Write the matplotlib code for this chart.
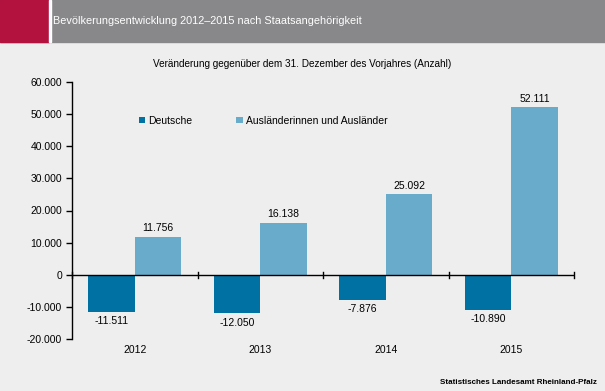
import numpy as np
import matplotlib.pyplot as plt
from matplotlib.patches import Rectangle

plt.rcParams['font.family'] = ['Liberation Sans', 'DejaVu Sans']

years = ['2012', '2013', '2014', '2015']
deutsche = [-11511, -12050, -7876, -10890]
auslaender = [11756, 16138, 25092, 52111]
yticks = [-20000, -10000, 0, 10000, 20000, 30000, 40000, 50000, 60000]


def de_fmt(v):
    return f'{v:,.0f}'.replace(',', '.')


fig = plt.figure(figsize=(6.05, 3.91), dpi=100)
fig.patch.set_facecolor('#eeeeee')

# header band
fig.add_artist(Rectangle((0, 1 - 42 / 391), 1, 42 / 391, transform=fig.transFigure,
                         color='#88888b', zorder=0))
fig.add_artist(Rectangle((0, 1 - 42 / 391), 49 / 605, 42 / 391, transform=fig.transFigure,
                         color='#b3123f', zorder=1))
fig.add_artist(Rectangle((49 / 605, 1 - 42 / 391), 1.5 / 605, 42 / 391, transform=fig.transFigure,
                         color='white', zorder=1))
fig.text(53 / 605, 1 - 21 / 391, 'Bevölkerungsentwicklung 2012\u20132015 nach Staatsangehörigkeit',
         color='white', fontsize=7.8, va='center', ha='left')

ax = fig.add_axes([72 / 605, 1 - 339 / 391, (574 - 72) / 605, (339 - 82) / 391])
ax.set_facecolor('none')

x = np.arange(len(years))
w = 0.37
b1 = ax.bar(x - w / 2, deutsche, w, color='#0071a3', label='Deutsche')
b2 = ax.bar(x + w / 2, auslaender, w, color='#68abcb', label='Ausländerinnen und Ausländer')

for xi, v in zip(x, deutsche):
    ax.text(xi - w / 2, v - 1300, de_fmt(v), ha='center', va='top', fontsize=7.5)
for xi, v in zip(x, auslaender):
    ax.text(xi + w / 2, v + 1100, de_fmt(v), ha='center', va='bottom', fontsize=7.5)

ax.set_xlim(-0.5, len(years) - 0.5)
ax.set_ylim(-20000, 60000)
ax.set_yticks(yticks)
ax.set_yticklabels([de_fmt(t) for t in yticks], fontsize=7.5)
ax.set_xticks([])
for s in ['top', 'right', 'bottom']:
    ax.spines[s].set_visible(False)
ax.spines['left'].set_linewidth(1)
ax.tick_params(axis='y', length=4, width=1, direction='out', pad=3)
ax.axhline(0, color='black', lw=1)
for b in np.arange(-0.5, len(years)):
    ax.plot([b, b], [-900, 900], color='black', lw=1, clip_on=False)
for xi, yl in zip(x, years):
    ax.text(xi, -22000, yl, ha='center', va='top', fontsize=7.5)

ax.legend(loc='upper left', bbox_to_anchor=(0.115, 0.905), ncol=2, frameon=False,
          fontsize=7.5, handlelength=0.6, handleheight=0.6, handletextpad=0.3,
          columnspacing=4.2)

fig.text(302 / 605, 1 - 64 / 391, 'Veränderung gegenüber dem 31. Dezember des Vorjahres (Anzahl)',
         ha='center', va='center', fontsize=7.2)
fig.text(597 / 605, 1 - 383 / 391, 'Statistisches Landesamt Rheinland-Pfalz',
         ha='right', va='center', fontsize=5.8, fontweight='bold')

fig.savefig('out.png', dpi=100, facecolor=fig.get_facecolor())
